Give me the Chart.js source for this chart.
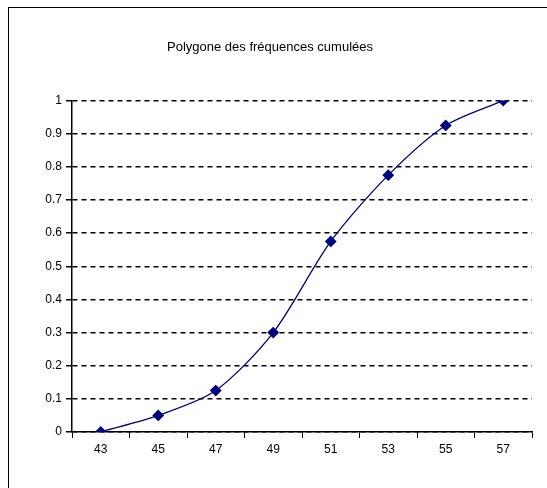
<!DOCTYPE html>
<html>
<head>
<meta charset="utf-8">
<script src="https://cdn.jsdelivr.net/npm/chart.js@4"></script>
<style>
  html, body { margin: 0; padding: 0; background: #fff; overflow: hidden; }
  #frame { position: absolute; left: 8px; top: 7px; width: 600px; height: 600px; border: 1px solid #000; }
  #wrap { position: absolute; left: 0; top: 0; width: 547px; height: 488px; }
</style>
</head>
<body>
<div id="frame"></div>
<div id="wrap"><canvas id="myChart" width="547" height="488"></canvas></div>
<script>
// values
let classes = ['43', '45', '47', '49', '51', '53', '55', '57'];
let cumulFreq = [0, 0.05, 0.125, 0.30, 0.575, 0.775, 0.925, 1];
let chartTitle = 'Polygone des fréquences cumulées';

let ctx = document.getElementById('myChart').getContext('2d');
let myChart = new Chart(ctx, {
    type: 'line',
    data: {
        labels: classes,
        datasets: [
            {
                label: chartTitle,
                data: cumulFreq,
                borderColor: '#000080',
                backgroundColor: '#000080',
                borderWidth: 1.3,
                tension: 0.28,
                pointStyle: 'rectRot',
                pointRadius: 5,
                pointBackgroundColor: '#000080',
                pointBorderColor: '#000080',
                fill: false
            }]
    },
    options: {
        responsive: false,
        animation: false,
        layout: { padding: { left: 8, right: 15, top: 0, bottom: 0 } },
        plugins: {
            legend: { display: false },
            tooltip: { enabled: false },
            title: {
                display: true,
                text: chartTitle,
                color: '#000',
                font: { family: 'Liberation Sans, Arial, sans-serif', size: 13, weight: 'normal' },
                padding: { top: 40, bottom: 45 }
            }
        },
        scales: {
            x: {
                offset: true,
                grid: { display: true, drawOnChartArea: false, offset: true, color: '#000', tickLength: 6 },
                border: { color: '#000', width: 1.5 },
                ticks: { color: '#000', font: { family: 'Liberation Sans, Arial, sans-serif', size: 12 }, padding: 4, maxRotation: 0 },
                afterFit: function (s) { s.height = 56; }
            },
            y: {
                min: 0,
                max: 1,
                ticks: {
                    stepSize: 0.1,
                    color: '#000',
                    font: { family: 'Liberation Sans, Arial, sans-serif', size: 12 },
                    padding: 4,
                    callback: function (v) { return String(Math.round(v * 10) / 10); }
                },
                grid: { color: '#000', tickLength: 6, lineWidth: 1.5, tickBorderDash: [], tickWidth: 1.5 },
                border: { color: '#000', width: 1.5, dash: [5, 4] },
                afterFit: function (s) { s.width = 64; }
            }
        }
    }
});
</script>
</body>
</html>
